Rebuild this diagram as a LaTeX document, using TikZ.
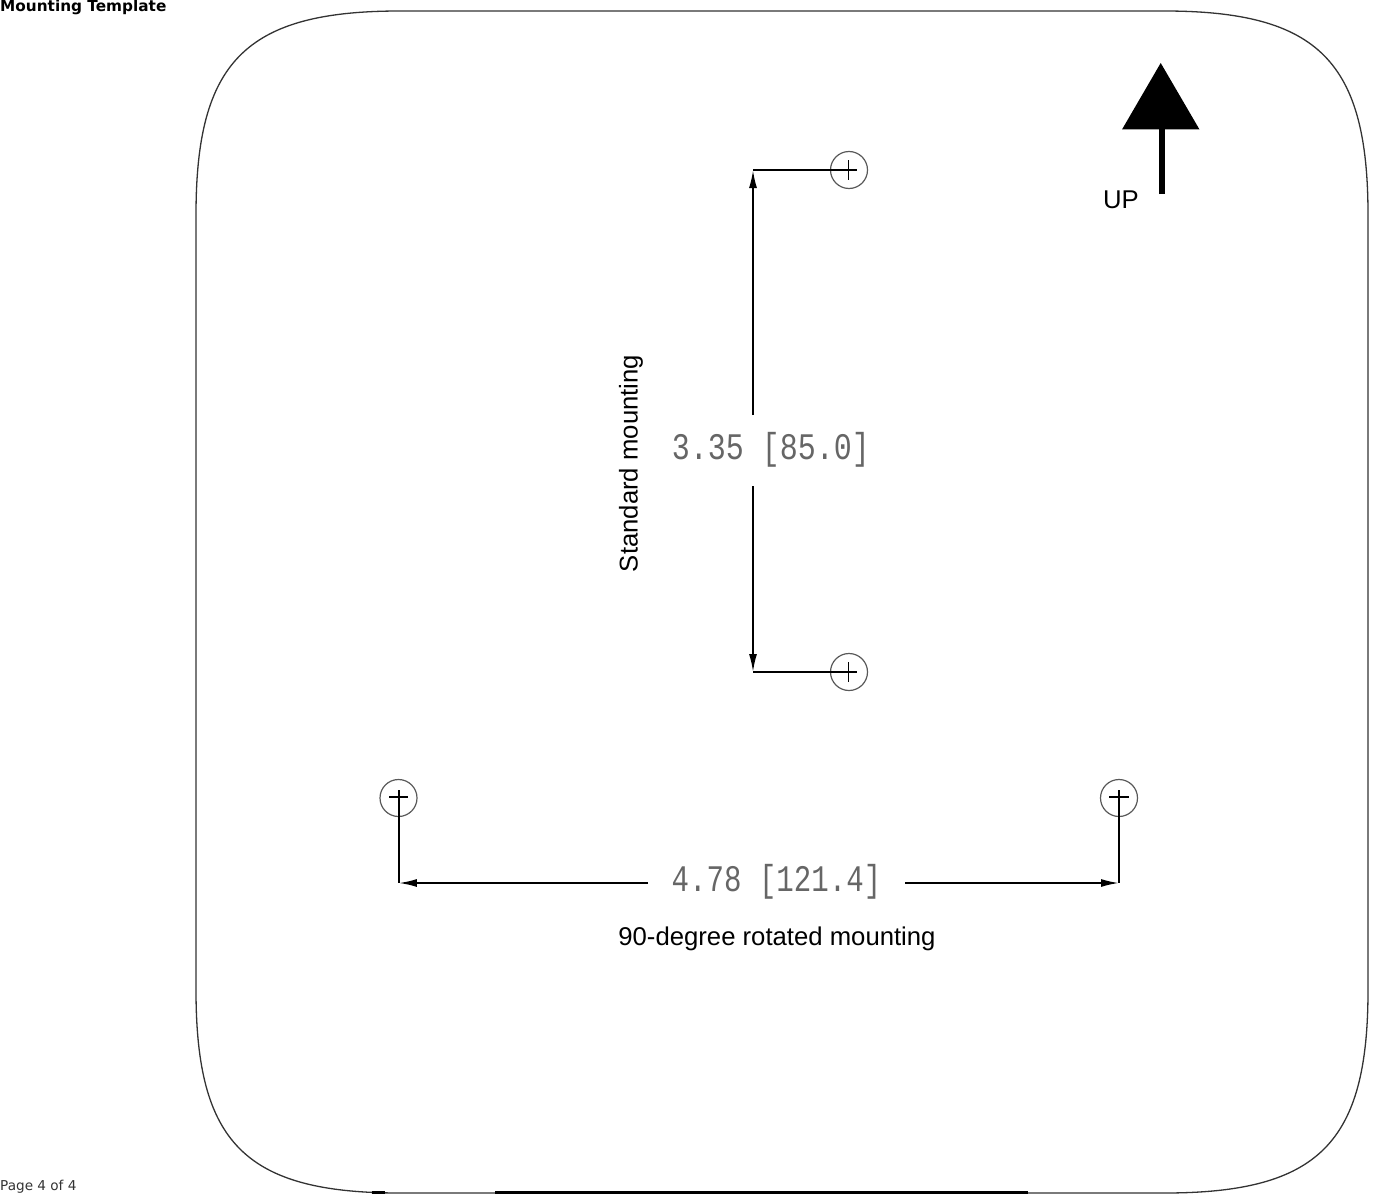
\documentclass[tikz,border=0pt]{standalone}
\usepackage{fontspec}
\setmainfont{Liberation Sans}
\newfontfamily\pagefont{DejaVu Sans}
\newfontfamily\dimfont{Liberation Mono}
\usetikzlibrary{arrows.meta,positioning}

\tikzset{
  outline/.style={draw=black!80,line width=1.3pt},
  hole/.style={draw=black!65,circle,line width=1.2pt,minimum size=37pt,inner sep=0pt},
  dimline/.style={line width=1.8pt},
  crossline/.style={line width=1.3pt},
  dimtip/.style={dimline,-{Latex[length=18pt,width=8pt]}},
  dimlabel/.style={text=black!60,font=\dimfont\fontsize{30}{30}\selectfont,inner sep=0pt},
  caption/.style={text=black,font=\fontsize{25.7}{25.7}\selectfont,inner sep=0pt},
  pagetext/.style={anchor=west,inner sep=0pt}
}

\begin{document}
\begin{tikzpicture}[x=1pt,y=-1pt]
      \useasboundingbox (0, 0) rectangle (1383, 1196);

      % Page header and footer
      \node[pagetext,font=\pagefont\bfseries\fontsize{15.3}{15.3}\selectfont] (title) at (0, 7) {Mounting Template};
      \node[pagetext,text=black!80,font=\pagefont\fontsize{13.6}{13.6}\selectfont] (page) at (0, 1187) {Page 4 of 4};

      % Template outline
      \draw[outline] (400, 11) -- (1164, 11)
        .. controls (1319, 11) and (1368, 62) .. (1368, 215)
        -- (1368, 990)
        .. controls (1368, 1143) and (1319, 1193) .. (1164, 1193)
        -- (400, 1193)
        .. controls (245, 1193) and (196, 1143) .. (196, 990)
        -- (196, 215)
        .. controls (196, 62) and (245, 11) .. (400, 11) -- cycle;
      \draw[line width=3pt] (495, 1192.5) -- (1028, 1192.5);
      \draw[line width=3pt] (372, 1192.5) -- (385, 1192.5);

      % Up arrow
      \coordinate (upbase) at (1161.7, 194);
      \coordinate (upneck) at (1161.7, 129);
      \fill (1160.7, 63) -- (1122, 129.5) -- (1199.5, 129.5) -- cycle;
      \draw[line width=6pt] (upbase) -- (upneck);
      \node[caption] (up) at (1121, 200) {UP};

      % Mounting holes
      \node[hole] (stdtop) at (849, 170) {};
      \node[hole] (stdbot) at (849, 672) {};
      \node[hole] (rotleft) at (398.5, 798) {};
      \node[hole] (rotright) at (1119, 798) {};

      % Standard mounting > crosses and extension lines
      \coordinate (stdtopend) at (753, 170);
      \coordinate (stdbotend) at (753, 672);
      \draw[dimline] (stdtopend) -- ++(104, 0);
      \draw[dimline] (stdbotend) -- ++(104, 0);
      \draw[crossline] (848.5, 160) -- (848.5, 180);
      \draw[crossline] (848.5, 662) -- (848.5, 682);

      % Standard mounting > dimension
      \node[dimlabel] (stddim) at (771, 450) {\scalebox{1}[1.25]{3.35 [85.0]}};
      \coordinate (stdgapup) at (753, 415);
      \coordinate (stdgapdown) at (753, 486);
      \draw[dimtip] (stdgapup) -- (stdtopend);
      \draw[dimtip] (stdgapdown) -- (stdbotend);
      \node[caption,rotate=90] (stdtext) at (631, 463.5) {Standard mounting};

      % Rotated mounting > crosses and extension lines
      \coordinate (rotleftend) at (398.9, 883);
      \coordinate (rotrightend) at (1119, 883);
      \draw[dimline] (398.9, 790) -- (rotleftend);
      \draw[dimline] (1119, 790) -- (rotrightend);
      \draw[crossline] (389, 797) -- (408, 797);
      \draw[crossline] (1109, 797) -- (1129, 797);

      % Rotated mounting > dimension
      \node[dimlabel] (rotdim) at (776.5, 882) {\scalebox{0.97}[1.25]{4.78 [121.4]}};
      \coordinate (rotgapleft) at (648, 883);
      \coordinate (rotgapright) at (905, 883);
      \draw[dimtip] (rotgapleft) -- (rotleftend);
      \draw[dimtip] (rotgapright) -- (rotrightend);
      \node[caption] (rottext) at (777, 939) {90-degree rotated mounting};
    \end{tikzpicture}
\end{document}
